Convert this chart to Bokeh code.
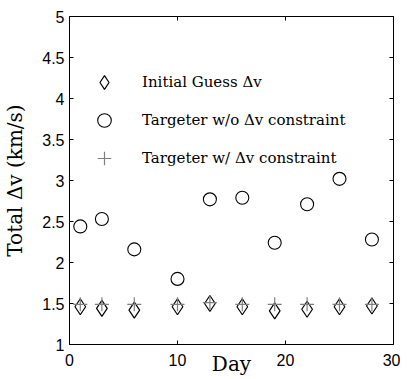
from bokeh.plotting import figure
from bokeh.models import LinearAxis, Legend, LegendItem, FixedTicker, Range1d
from bokeh.embed import file_html
from bokeh.resources import INLINE

days = [1, 3, 6, 10, 13, 16, 19, 22, 25, 28]
initial_guess = [1.46, 1.44, 1.42, 1.46, 1.50, 1.46, 1.41, 1.43, 1.46, 1.47]
no_constraint = [2.44, 2.53, 2.16, 1.80, 2.77, 2.79, 2.24, 2.71, 3.02, 2.28]
with_constraint = [1.49, 1.49, 1.49, 1.49, 1.51, 1.49, 1.49, 1.49, 1.49, 1.49]
x_ticks = [0, 10, 20, 30]
y_ticks = [1, 1.5, 2, 2.5, 3, 3.5, 4, 4.5, 5]

SERIF = "DejaVu Serif"
SANS = "Liberation Sans"

p = figure(width=400, height=379,
           x_range=Range1d(0, 30), y_range=Range1d(1, 5),
           output_backend="svg", toolbar_location=None,
           min_border_left=68, min_border_top=16, min_border_right=7,
           min_border_bottom=35)
p.background_fill_color = "white"
p.border_fill_color = "white"
p.outline_line_color = "black"
p.outline_line_width = 1
p.xgrid.visible = False
p.ygrid.visible = False

for ax in (p.xaxis[0], p.yaxis[0]):
    ax.axis_line_color = "black"
    ax.major_tick_in = 4
    ax.major_tick_out = 0
    ax.minor_tick_line_color = None
    ax.major_label_text_font = SANS
    ax.major_label_text_font_size = "16px"
    ax.major_label_text_color = "black"
    ax.axis_label_text_font = SERIF
    ax.axis_label_text_font_size = "20px"
    ax.axis_label_text_font_style = "normal"
    ax.axis_label_text_color = "black"

p.xaxis[0].ticker = FixedTicker(ticks=x_ticks)
p.yaxis[0].ticker = FixedTicker(ticks=y_ticks)
p.xaxis[0].axis_label = "Day"
p.yaxis[0].axis_label = "Total Δv (km/s)"
p.xaxis[0].major_label_standoff = 9
p.xaxis[0].axis_label_standoff = -17
p.yaxis[0].major_label_standoff = 5
p.yaxis[0].axis_label_standoff = 12

for loc, ticks in (("right", y_ticks), ("above", x_ticks)):
    ax = LinearAxis(ticker=FixedTicker(ticks=ticks), major_tick_in=4, major_tick_out=0,
                    minor_tick_line_color=None,
                    major_label_overrides={t: "" for t in ticks},
                    major_label_standoff=0, axis_line_color=None)
    p.add_layout(ax, loc)

r_diam = p.scatter(days, initial_guess, marker="diamond", size=16,
                   fill_color=None, line_color="black", line_width=1.2)
r_circ = p.scatter(days, no_constraint, marker="circle", size=13,
                   fill_color=None, line_color="black", line_width=1.1)
r_plus = p.scatter(days, with_constraint, marker="cross", size=14,
                   line_color="#7f7f7f", line_width=1.2)

legend = Legend(items=[
    LegendItem(label="Initial Guess Δv", renderers=[r_diam]),
    LegendItem(label="Targeter w/o Δv constraint", renderers=[r_circ]),
    LegendItem(label="Targeter w/ Δv constraint", renderers=[r_plus]),
], location=(18, 169))
legend.glyph_width = 34
legend.glyph_height = 34
legend.label_height = 34
legend.spacing = 4
legend.padding = 0
legend.margin = 0
legend.label_standoff = 21
legend.label_text_font = SERIF
legend.label_text_font_size = "15px"
legend.label_text_color = "black"
legend.border_line_color = None
legend.background_fill_alpha = 0
p.add_layout(legend)

open("out.html", "w").write(file_html(p, INLINE))
